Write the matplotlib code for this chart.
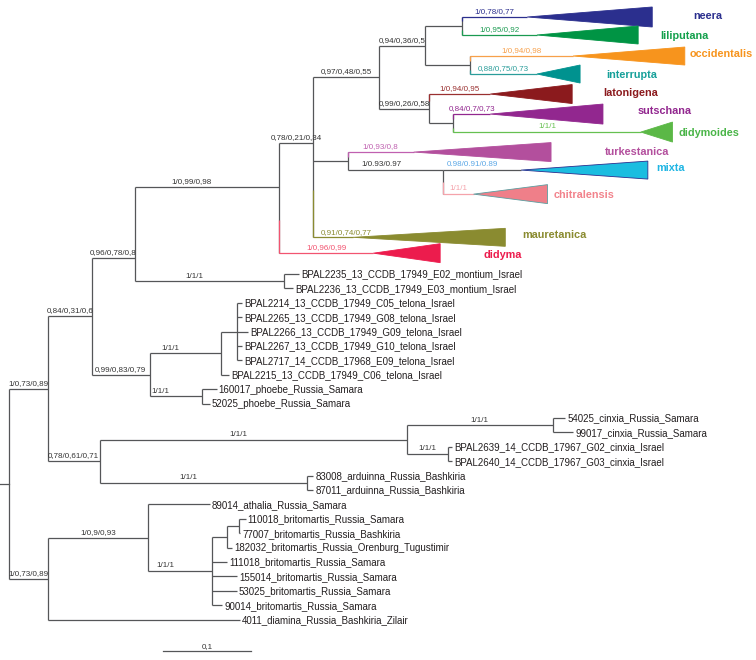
import matplotlib
matplotlib.use("Agg")
import matplotlib.pyplot as plt
from matplotlib.patches import Polygon

plt.rcParams['font.family'] = ['Liberation Sans', 'DejaVu Sans']

# ---- data: internal nodes (branch lengths in substitutions/site) ----
node_names = ['A', 'L', 'B', 'Cx', 'B1', 'C', 'D', 'K', 'E', 'F', 'G', 'G1', 'G2', 'H',
              'H1', 'I', 'J', 'T', 'T1', 'P', 'CX', 'CS', 'CI', 'AR', 'M', 'N', 'N1', 'N2']
node_parents = ['R', 'R', 'A', 'A', 'B', 'B', 'B1', 'B1', 'D', 'E', 'F', 'G', 'G', 'F',
                'H', 'E', 'I', 'C', 'T', 'C', 'Cx', 'CX', 'CX', 'Cx', 'L', 'M', 'N', 'N1']
node_lengths = [0.044, 0.044, 0.050, 0.059, 0.049, 0.066, 0.164, 0.170, 0.039, 0.075, 0.052,
                0.042, 0.051, 0.056, 0.028, 0.039, 0.108, 0.081, 0.018, 0.059, 0.349, 0.166,
                0.047, 0.236, 0.114, 0.073, 0.017, 0.013]
node_support = ['1/0,73/0,89', '1/0,73/0,89', '0,84/0,31/0,6', '0,78/0,61/0,71', '0,96/0,78/0,8',
                '0,99/0,83/0,79', '1/0,99/0,98', '1/1/1', '0,78/0,21/0,34', '0,97/0,48/0,55',
                '0,94/0,36/0,5', '', '', '0,99/0,26/0,58', '', '', '1/0.93/0.97', '1/1/1', '',
                '1/1/1', '1/1/1', '1/1/1', '1/1/1', '1/1/1', '1/0,9/0,93', '1/1/1', '', '']

# ---- data: collapsed clades (stem length, clade depth) ----
clade_names = ['neera', 'liliputana', 'occidentalis', 'interrupta', 'latonigena', 'sutschana',
               'didymoides', 'turkestanica', 'mixta', 'chitralensis', 'mauretanica', 'didyma']
clade_parents = ['G1', 'G1', 'G2', 'G2', 'H', 'H1', 'H1', 'I', 'J', 'J', 'E', 'D']
clade_stems = [0.074, 0.085, 0.117, 0.076, 0.070, 0.042, 0.213, 0.075, 0.089, 0.035, 0.045, 0.107]
clade_depths = [0.142, 0.115, 0.127, 0.049, 0.093, 0.128, 0.036, 0.156, 0.144, 0.084, 0.173, 0.076]
clade_support = ['1/0,78/0,77', '1/0,95/0,92', '1/0,94/0,98', '0,88/0,75/0,73', '1/0,94/0,95',
                 '0,84/0,7/0,73', '1/1/1', '1/0,93/0,8', '0.98/0.91/0.89', '1/1/1',
                 '0,91/0,74/0,77', '1/0,96/0,99']

# ---- data: terminal samples ----
leaf_names = ['BPAL2235_13_CCDB_17949_E02_montium_Israel', 'BPAL2236_13_CCDB_17949_E03_montium_Israel',
              'BPAL2214_13_CCDB_17949_C05_telona_Israel', 'BPAL2265_13_CCDB_17949_G08_telona_Israel',
              'BPAL2266_13_CCDB_17949_G09_telona_Israel', 'BPAL2267_13_CCDB_17949_G10_telona_Israel',
              'BPAL2717_14_CCDB_17968_E09_telona_Israel', 'BPAL2215_13_CCDB_17949_C06_telona_Israel',
              '160017_phoebe_Russia_Samara', '52025_phoebe_Russia_Samara',
              '54025_cinxia_Russia_Samara', '99017_cinxia_Russia_Samara',
              'BPAL2639_14_CCDB_17967_G02_cinxia_Israel', 'BPAL2640_14_CCDB_17967_G03_cinxia_Israel',
              '83008_arduinna_Russia_Bashkiria', '87011_arduinna_Russia_Bashkiria',
              '89014_athalia_Russia_Samara', '110018_britomartis_Russia_Samara',
              '77007_britomartis_Russia_Bashkiria', '182032_britomartis_Russia_Orenburg_Tugustimir',
              '111018_britomartis_Russia_Samara', '155014_britomartis_Russia_Samara',
              '53025_britomartis_Russia_Samara', '90014_britomartis_Russia_Samara',
              '4011_diamina_Russia_Bashkiria_Zilair']
leaf_parents = ['K', 'K', 'T1', 'T1', 'T1', 'T1', 'T1', 'T', 'P', 'P', 'CS', 'CS', 'CI', 'CI',
                'AR', 'AR', 'M', 'N2', 'N2', 'N1', 'N', 'N', 'N', 'N', 'L']
leaf_lengths = [0.017, 0.010, 0.006, 0.006, 0.013, 0.006, 0.006, 0.009, 0.017, 0.009, 0.014,
                0.023, 0.005, 0.005, 0.007, 0.007, 0.070, 0.008, 0.002, 0.006, 0.017, 0.028,
                0.028, 0.011, 0.218]

# ---- layout ----
clade_gaps = [0, 1.25, 1.46, 1.25, 1.39, 1.39, 1.25, 1.39, 1.25, 1.67, 3.0, 1.1]
clade_heights = [1.39, 1.25, 1.25, 1.25, 1.32, 1.39, 1.39, 1.32, 1.25, 1.32, 1.25, 1.32]
first_leaf_gap = 1.45
name_dx = [0.047, 0.025, 0.005, 0.030, 0.035, 0.039, 0.007, 0.061, 0.009, 0.007, 0.019, 0.049]
name_dy = [-0.14, 0, -0.2, 0, -0.14, -0.28, 0, -0.07, -0.2, 0, -0.2, 0.07]
anchor = {'J': 0.0, 'E': 0.41, 'D': 0.4, 'B1': 0.75}
label_shift = {'D': -0.017, 'K': -0.017, 'T': -0.017, 'P': -0.017, 'CX': -0.017, 'AR': -0.017,
               'N': -0.017, 'J': -0.016, 'mixta': -0.011, 'mauretanica': 0.015}

# ---- style ----
line_color = '#555658'
lw = 0.9
fill_colors = ['#2b2f8e', '#009444', '#f7941d', '#00928f', '#8b1a1d', '#92278f',
               '#5bb846', '#b34f9d', '#1bbde0', '#ef7f89', '#8a8b30', '#ec1c4d']
stem_colors = ['#2b2f8e', '#1a9a50', '#f7a04a', '#2a9d9a', '#9a3030', '#92278f',
               '#66c050', '#c060b0', line_color, '#f5a3ab', '#8a8b30', '#f25470']
support_colors = ['#2b2f8e', '#1a9a50', '#f7a04a', '#2a9d9a', '#9a3030', '#92278f',
                  '#66c050', '#c060b0', '#5aa7e6', '#f5a3ab', '#8a8b30', '#f25470']
name_colors = ['#2b2f8e', '#13a04c', '#f7941d', '#17a09a', '#8b1a1d', '#92278f',
               '#4ab548', '#b34f9d', '#1fb5e3', '#f2838c', '#8a8b30', '#ec1c4d']
edge_colors = {'mixta': '#2b2f8e', 'chitralensis': '#5a9ea0'}
text_color = '#231f20'

# ---- build tree geometry ----
x = {'R': 0.0}
children = {'R': []}
parent = {}
for n, p, l in zip(node_names, node_parents, node_lengths):
    x[n] = x[p] + l
    children.setdefault(p, []).append(n)
    children.setdefault(n, [])
    parent[n] = p
for n, p, l in zip(clade_names, clade_parents, clade_stems):
    x[n] = x[p] + l
    children[p].append(n)
    parent[n] = p
for n, p, l in zip(leaf_names, leaf_parents, leaf_lengths):
    x[n] = x[p] + l
    children[p].append(n)
    parent[n] = p

y = {}
row = 0.0
for n, g in zip(clade_names, clade_gaps):
    row += g
    y[n] = row
for i, n in enumerate(leaf_names):
    row += first_leaf_gap if i == 0 else 1.0
    y[n] = row


def node_y(n):
    if n in y:
        return y[n]
    ys = [node_y(c) for c in children[n]]
    top, bot = min(ys), max(ys)
    y[n] = top + anchor.get(n, 0.5) * (bot - top)
    return y[n]


node_y('R')

stem_col = dict(zip(clade_names, stem_colors))
sup_col = dict(zip(clade_names, support_colors))
support = dict(zip(node_names, node_support))
support.update(zip(clade_names, clade_support))

# ---- draw ----
fig = plt.figure(figsize=(7.56, 6.6), dpi=100)
ax = fig.add_axes([0, 0, 1, 1])
ax.set_xlim(-0.0102, 0.8489)
ax.set_ylim(44.65, -1.18)
ax.axis('off')

# verticals of internal nodes
for n, ch in children.items():
    ys = [y[c] for c in ch]
    ax.plot([x[n], x[n]], [min(ys), max(ys)], color=line_color, lw=lw, solid_capstyle='butt')

# root stub
ax.plot([-0.0102, 0], [y['R'], y['R']], color=line_color, lw=lw)

# horizontal branches + support values
for c, p in parent.items():
    col = stem_col.get(c, line_color)
    ax.plot([x[p], x[c]], [y[c], y[c]], color=col, lw=lw, solid_capstyle='butt')
    if col != line_color:
        ax.plot([x[p], x[p]], [y[c], (y[c] + y[p]) / 2], color=col, lw=lw, solid_capstyle='butt')
    s = support.get(c, '')
    if s:
        ax.annotate(s, ((x[p] + x[c]) / 2 + label_shift.get(c, 0), y[c]),
                    xytext=(0, 2.7), textcoords='offset points', ha='center', va='baseline',
                    fontsize=5.8, color=sup_col.get(c, '#333333'))

# collapsed clades
for i, n in enumerate(clade_names):
    x0, y0 = x[n], y[n]
    x1 = x0 + clade_depths[i]
    h = clade_heights[i] / 2
    tri = Polygon([(x0, y0), (x1, y0 - h), (x1, y0 + h)], closed=True,
                  facecolor=fill_colors[i], edgecolor=edge_colors.get(n, fill_colors[i]),
                  lw=0.6, zorder=3)
    ax.add_patch(tri)
    ax.annotate(n, (x1 + name_dx[i], y0 + name_dy[i]), xytext=(0, -2.8),
                textcoords='offset points', ha='left', va='baseline',
                fontsize=7.8, fontweight='bold', color=name_colors[i])

# terminal labels
for n in leaf_names:
    ax.annotate(n, (x[n], y[n]), xytext=(1.5, -2.5), textcoords='offset points',
                ha='left', va='baseline', fontsize=7.0, color=text_color)

# scale bar
bar_x, bar_y = 0.175, 44.03
ax.plot([bar_x, bar_x + 0.1], [bar_y, bar_y], color=line_color, lw=lw)
ax.annotate('0,1', (bar_x + 0.05, bar_y), xytext=(0, 2.0), textcoords='offset points',
            ha='center', va='baseline', fontsize=5.8, color='#333333')

fig.savefig('out.png', dpi=100, facecolor='white')
